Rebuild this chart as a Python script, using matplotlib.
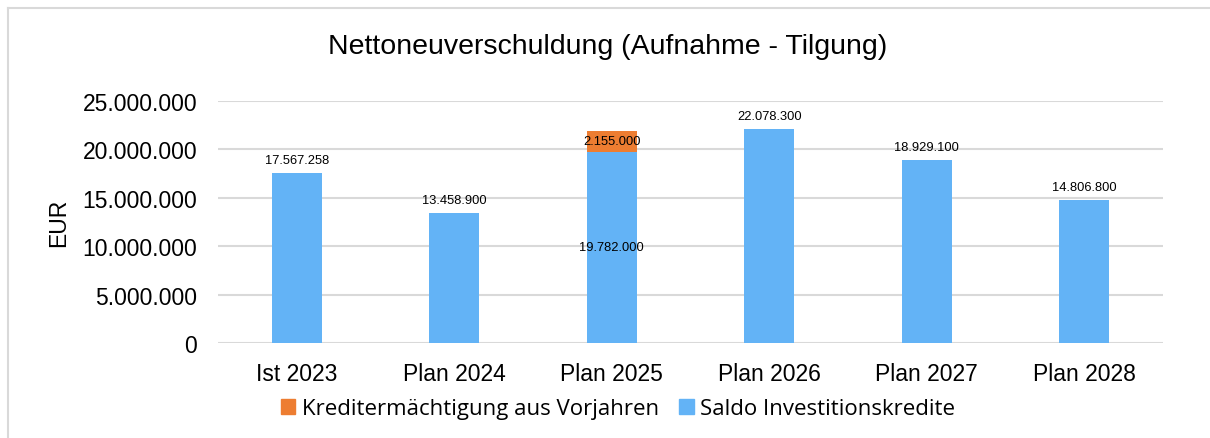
import matplotlib
matplotlib.use("Agg")
import matplotlib.pyplot as plt
from matplotlib.patches import Patch
from matplotlib.lines import Line2D
import numpy as np

categories = ["Ist 2023", "Plan 2024", "Plan 2025", "Plan 2026", "Plan 2027", "Plan 2028"]
saldo = [17567258, 13458900, 19782000, 22078300, 18929100, 14806800]
kredit = [0, 0, 2155000, 0, 0, 0]
yticks = [0, 5000000, 10000000, 15000000, 20000000, 25000000]

blue = "#63b3f6"
orange = "#ed7d31"
grid_c = "#d9d9d9"

def fmt(v):
    return f"{v:,.0f}".replace(",", ".")

plt.rcParams['font.family'] = ['Liberation Sans', 'DejaVu Sans']

fig = plt.figure(figsize=(12.1, 4.39), dpi=100)
bx = 8 / 1210
by = 1 - 9 / 439
fig.add_artist(Line2D([bx, bx], [0, by], transform=fig.transFigure, color=grid_c, linewidth=1.5))
fig.add_artist(Line2D([bx, 1], [by, by], transform=fig.transFigure, color=grid_c, linewidth=1.5))

ax = fig.add_axes([218/1210, 1 - 344/439, (1163-218)/1210, (344-102)/439])

x = np.arange(len(categories))
w = 0.32
ax.bar(x, saldo, width=w, color=blue, zorder=3, label="Saldo Investitionskredite")
ax.bar(x, kredit, width=w, bottom=saldo, color=orange, zorder=3,
       label="Kreditermächtigung aus Vorjahren")

ax.set_xlim(-0.5, len(categories) - 0.5)
ax.set_ylim(0, 25000000)
ax.set_yticks(yticks)
ax.set_yticklabels([fmt(v) for v in yticks])
ax.set_xticks(x)
ax.set_xticklabels(categories)
ax.tick_params(axis='y', length=0, pad=15, labelsize=16.5, colors="#000000")
ax.tick_params(axis='x', length=0, pad=14, labelsize=16.5, colors="#000000")
for s in ax.spines.values():
    s.set_visible(False)
ax.yaxis.grid(True, color=grid_c, linewidth=1.5, zorder=0)
ax.set_axisbelow(True)

ax.set_ylabel("EUR", fontsize=16.5, labelpad=9)
fig.text(608/1210, 1 - 47/439, "Nettoneuverschuldung (Aufnahme - Tilgung)",
         fontsize=20.5, ha='center', va='center')

for i, (s, k) in enumerate(zip(saldo, kredit)):
    if k > 0:
        ax.text(x[i], s / 2, fmt(s), ha='center', va='center', fontsize=9.3, zorder=5)
        ax.text(x[i], s + k / 2, fmt(k), ha='center', va='center', fontsize=9.3, zorder=5)
    else:
        ax.annotate(fmt(s), (x[i], s), xytext=(0, 5), textcoords='offset points',
                    ha='center', va='bottom', fontsize=9.3, zorder=5)

handles = [Patch(color=orange), Patch(color=blue)]
labels = ["Kreditermächtigung aus Vorjahren", "Saldo Investitionskredite"]
fig.legend(handles, labels, loc='center', bbox_to_anchor=(618/1210, 1 - 410/439), ncol=2,
           frameon=False, prop={'family': 'Open Sans', 'size': 16}, handlelength=0.65,
           handleheight=0.65, handletextpad=0.3, columnspacing=0.9)

fig.savefig("out.png", dpi=100)
